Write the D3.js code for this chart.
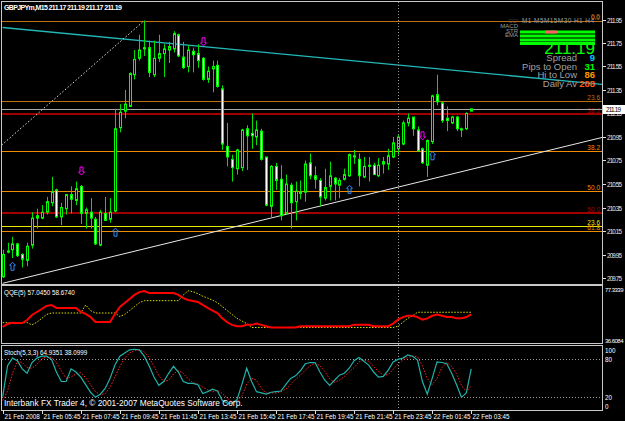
<!DOCTYPE html>
<html>
<head>
<meta charset="utf-8">
<script src="https://cdn.jsdelivr.net/npm/d3@7"></script>
<style>
  body { margin: 0; background: #000; }
  text { font-family: 'Liberation Sans', Arial, sans-serif; }
</style>
</head>
<body>
<svg id="chart" width="625" height="421"></svg>
<script>
// GBPJPYm M15, 21 Feb 2008 03:45 -> 22 Feb 2008 03:45 (97 bars)
const opens = [209.76,209.97,209.99,210.04,209.95,209.90,210.03,210.28,210.26,210.31,
  210.39,210.50,210.27,210.34,210.46,210.41,210.53,210.30,210.31,210.25,
  210.03,210.30,210.25,210.32,211.03,211.17,211.21,211.48,211.62,211.71,
  211.71,211.48,211.62,211.66,211.69,211.70,211.82,211.63,211.55,211.68,
  211.66,211.62,211.44,211.53,211.56,211.36,210.87,210.76,210.68,210.69,
  211.02,210.98,210.95,211.00,210.78,210.36,210.70,210.59,210.30,210.54,
  210.40,210.48,210.48,210.73,210.62,210.58,210.43,210.53,210.60,210.54,
  210.59,210.62,210.79,210.76,210.61,210.71,210.71,210.62,210.74,210.72,
  210.78,210.85,210.89,211.07,211.12,211.01,210.85,210.71,210.91,211.31,
  211.24,211.11,211.07,211.12,211.01,211.02,211.17];
const highs = [209.99,210.05,210.10,210.05,209.96,210.05,210.31,210.34,210.37,210.44,
  210.61,210.51,210.39,210.46,210.53,210.57,210.54,210.35,210.43,210.27,
  210.33,210.44,210.43,211.19,211.23,211.35,211.50,211.69,211.82,211.94,
  211.77,211.77,211.82,211.74,211.76,211.85,211.83,211.76,211.73,211.71,
  211.74,211.63,211.55,211.60,211.60,211.39,211.07,210.80,210.85,211.02,
  211.05,211.15,211.09,211.02,210.78,210.71,210.73,210.71,210.63,210.56,
  210.57,210.58,210.75,210.81,210.70,210.60,210.68,210.74,210.61,210.60,
  210.68,210.81,210.84,210.81,210.78,210.78,210.73,210.77,210.78,210.85,
  210.95,210.97,211.09,211.15,211.12,211.04,210.86,210.93,211.31,211.48,
  211.25,211.21,211.13,211.13,211.03,211.16,211.19];
const lows = [209.75,209.96,209.92,209.93,209.84,209.85,210.00,210.17,210.25,210.29,
  210.36,210.26,210.20,210.29,210.30,210.37,210.21,210.17,210.17,210.03,
  210.02,210.24,210.22,210.31,210.99,211.11,211.21,211.44,211.60,211.64,
  211.46,211.46,211.59,211.46,211.58,211.67,211.63,211.53,211.50,211.50,
  211.54,211.43,211.41,211.33,211.37,210.84,210.70,210.57,210.63,210.66,
  210.67,210.85,210.88,210.75,210.36,210.26,210.50,210.24,210.29,210.17,
  210.24,210.42,210.40,210.59,210.51,210.36,210.41,210.41,210.41,210.43,
  210.58,210.61,210.72,210.53,210.60,210.57,210.63,210.61,210.64,210.67,
  210.77,210.80,210.88,211.04,210.96,210.83,210.72,210.61,210.89,211.22,
  211.07,211.00,211.06,211.00,210.95,211.01,211.17];
const closes = [209.95,209.98,210.04,209.94,209.91,210.02,210.26,210.26,210.31,210.40,
  210.48,210.27,210.35,210.46,210.42,210.51,210.30,210.33,210.26,210.04,
  210.31,210.24,210.31,211.02,211.16,211.23,211.49,211.61,211.69,211.70,
  211.50,211.62,211.66,211.70,211.72,211.83,211.64,211.54,211.69,211.65,
  211.60,211.44,211.51,211.55,211.38,210.89,210.78,210.69,210.84,211.01,
  210.96,210.96,211.01,210.76,210.37,210.70,210.58,210.28,210.55,210.39,
  210.49,210.47,210.72,210.62,210.59,210.44,210.52,210.62,210.55,210.58,
  210.63,210.80,210.78,210.62,210.70,210.70,210.63,210.71,210.72,210.79,
  210.90,210.95,211.07,211.11,211.02,210.83,210.73,210.92,211.30,211.25,
  211.09,211.09,211.12,211.02,211.02,211.15,211.19];

const timeLabels = ['21 Feb 2008','21 Feb 05:45','21 Feb 07:45','21 Feb 09:45','21 Feb 11:45',
  '21 Feb 13:45','21 Feb 15:45','21 Feb 17:45','21 Feb 19:45','21 Feb 21:45',
  '21 Feb 23:45','22 Feb 01:45','22 Feb 03:45'];
const priceTicks = ['211.95','211.75','211.55','211.35','211.15','210.95','210.75',
  '210.55','210.35','210.15','209.95','209.75'];

// horizontal levels drawn on the chart
const levelPrices = [211.94, 211.256, 211.148, 210.832, 210.49, 210.306, 210.19, 210.148];
const levelNames  = ['0.0', '23.6', '38.2', '38.2', '50.0', '50.0', '23.6', '61.8'];
const levelSets   = ['fibTop', 'fibTop', 'fibRed', 'fib', 'fib', 'fibRed', 'fibYel', 'fib'];
const bidPrice = 211.19;

// trendlines [bar, price] pairs
const cyanLine  = [[0, 211.882], [96, 211.503]];
const whiteLine = [[0, 209.705], [96, 210.675]];
const fibDiag   = [[-51, 209.04], [29, 211.94]];
const separatorBar = 81;

// signal arrows
const buyBars = [2, 23, 71, 88];
const buyPrices = [209.85, 210.14, 210.505, 210.79];
const sellBars = [16, 41, 86];
const sellPrices = [210.66, 211.76, 210.96];

// QQE(5)
const qqeRsi = [47.4,49.7,50.7,50.4,50.4,52.7,56.6,58.9,61.2,63.5,
  64.3,62.0,62.0,62.0,62.0,62.0,58.9,57.4,55.0,51.2,
  51.2,51.2,51.2,57.4,62.7,65.8,68.9,72.0,74.2,75.0,
  73.5,73.5,73.5,73.5,73.5,73.5,72.0,69.6,68.1,67.3,
  66.6,64.3,62.0,60.0,58.0,54.0,51.0,49.0,48.0,48.0,
  49.0,49.0,50.0,49.0,48.0,47.0,47.0,47.0,47.0,47.0,
  47.0,48.0,48.0,48.0,48.0,48.0,48.0,48.0,48.0,48.0,
  48.0,48.0,49.0,49.0,49.0,49.0,48.0,48.0,48.0,48.0,
  50.0,53.0,55.0,56.0,56.0,55.0,53.0,54.0,56.0,57.0,
  56.0,55.0,55.0,54.0,54.0,55.0,57.0];
const qqeTrail = [50.7,50.7,50.7,50.7,50.7,50.7,49.0,51.0,54.0,57.0,
  58.1,58.1,58.1,58.1,58.1,58.1,58.1,64.3,60.0,58.1,
  58.1,58.1,58.1,58.1,55.4,57.0,60.0,63.0,66.0,67.6,
  67.6,67.6,67.6,67.6,67.6,67.6,67.6,72.0,75.2,74.5,
  73.0,71.0,69.6,68.0,66.0,63.0,60.0,57.0,54.0,52.0,
  50.0,47.0,47.0,47.0,47.0,47.0,47.0,47.0,47.0,47.0,
  47.0,47.0,47.0,47.0,47.0,47.0,47.0,47.0,47.0,47.0,
  47.0,47.0,47.0,47.0,47.0,47.0,47.0,47.0,47.0,47.0,
  47.0,48.0,51.0,54.0,56.0,58.7,58.7,58.7,58.7,58.7,
  58.7,58.7,58.7,58.7,58.7,58.7,58.7];

// Stoch(5,3,3)
const stochMain = [21,70,82,78,65,58,75,82,85,85,
  80,60,45,45,65,60,52,40,28,20,
  25,34,50,71,85,90,95,96,95,85,
  70,52,39,45,58,69,60,45,42,42,
  40,26,29,33,30,15,11,11,16,40,
  66,45,29,27,25,28,29,30,40,50,
  54,62,73,75,75,60,47,39,47,55,
  58,66,78,83,77,71,60,52,53,63,
  76,80,82,87,85,79,45,25,50,76,
  75,73,58,40,20,27,65];
const stochSignal = [15,30,58,77,75,67,66,72,81,84,
  83,75,62,50,52,57,59,51,40,29,
  24,26,36,52,69,82,90,94,95,92,
  83,69,54,45,47,57,62,58,49,43,
  41,36,32,29,31,26,19,12,13,22,
  41,50,47,34,27,27,27,29,33,40,
  48,55,63,70,74,70,61,49,44,47,
  53,60,67,76,79,77,69,61,55,56,
  64,73,79,83,85,84,70,50,40,50,
  67,75,69,57,39,29,38];
const stochLevels = [80, 20];

const svg = d3.select('#chart');
svg.append('rect').attr('width', 625).attr('height', 421).attr('fill', '#000');

const x = d3.scaleLinear().domain([0, 96]).range([2.7, 471.2]);
const y = d3.scaleLinear().domain([209.75, 211.95]).range([278, 19.5]);
const yQ = d3.scaleLinear().domain([36.6084, 77.3339]).range([341, 288]);
const yS = d3.scaleLinear().domain([0, 100]).range([410, 346.7]);
const px = i => Math.round(x(i)) + 0.5;

const frameColor = '#c8c8c8';
const levelStyle = {
  fibTop: {color: '#c07010', w: 1},
  fib:    {color: '#f08c00', w: 1},
  fibRed: {color: '#a00000', w: 2},
  fibYel: {color: '#e8e800', w: 1}
};

svg.append('clipPath').attr('id', 'mainClip')
  .append('rect').attr('x', 2).attr('y', 2).attr('width', 600).attr('height', 282);

const main = svg.append('g').attr('clip-path', 'url(#mainClip)');

// levels
levelPrices.forEach((p, k) => {
  const st = levelStyle[levelSets[k]];
  const yy = Math.round(y(p)) + (st.w === 2 ? 0 : 0.5);
  main.append('line').attr('x1', 2).attr('x2', 602).attr('y1', yy).attr('y2', yy)
    .attr('stroke', st.color).attr('stroke-width', st.w);
  main.append('text').attr('x', 600).attr('y', yy - 1.5).attr('text-anchor', 'end')
    .attr('font-size', 6.5).attr('fill', st.color).text(levelNames[k]);
});
const yb = Math.round(y(bidPrice)) + 0.5;
main.append('line').attr('x1', 2).attr('x2', 602).attr('y1', yb).attr('y2', yb)
  .attr('stroke', '#a8a8a8').attr('stroke-width', 1);

// day separator
svg.append('line').attr('x1', px(separatorBar)).attr('x2', px(separatorBar))
  .attr('y1', 2).attr('y2', 410).attr('stroke', '#9a9a9a').attr('stroke-dasharray', '1,2');

// trendlines
const tl = (pts, color, dash, w) => {
  main.append('line')
    .attr('x1', x(pts[0][0])).attr('y1', y(pts[0][1]))
    .attr('x2', x(pts[1][0])).attr('y2', y(pts[1][1]))
    .attr('stroke', color).attr('stroke-width', w).attr('stroke-dasharray', dash);
};
const extend = (pts, toBar) => {
  const k = (pts[1][1] - pts[0][1]) / (pts[1][0] - pts[0][0]);
  return [pts[0], [toBar, pts[0][1] + k * (toBar - pts[0][0])]];
};
tl(extend(cyanLine, 125), '#22b8b8', null, 1.3);
tl(extend(whiteLine, 125), '#e8e8e8', null, 1);
tl(fibDiag, '#e0e0e0', '1.5,2', 1);

// candles
const bars = opens.map((o, i) => ({i, o, h: highs[i], l: lows[i], c: closes[i]}));
main.selectAll('line.wick').data(bars).join('line').attr('class', 'wick')
  .attr('x1', d => px(d.i)).attr('x2', d => px(d.i))
  .attr('y1', d => y(d.h)).attr('y2', d => y(d.l))
  .attr('stroke', '#00e000').attr('stroke-width', 1);
main.selectAll('rect.body').data(bars).join('rect').attr('class', 'body')
  .attr('x', d => px(d.i) - 1)
  .attr('y', d => y(Math.max(d.o, d.c)))
  .attr('width', 2)
  .attr('height', d => Math.max(1, y(Math.min(d.o, d.c)) - y(Math.max(d.o, d.c))))
  .attr('fill', d => d.c >= d.o ? '#000' : '#fff')
  .attr('stroke', '#00ff00').attr('stroke-width', 1);

// arrows
const upPts = '0,-4 3,-1 1.5,-1 1.5,4 -1.5,4 -1.5,-1 -3,-1';
const downPts = '0,4 3,1 1.5,1 1.5,-4 -1.5,-4 -1.5,1 -3,1';
buyBars.forEach((b, k) => {
  main.append('polygon').attr('points', upPts)
    .attr('transform', `translate(${px(b)},${y(buyPrices[k])})`)
    .attr('fill', 'none').attr('stroke', '#2f8cff').attr('stroke-width', 1);
});
sellBars.forEach((b, k) => {
  main.append('polygon').attr('points', downPts)
    .attr('transform', `translate(${px(b)},${y(sellPrices[k])})`)
    .attr('fill', 'none').attr('stroke', '#ff00ff').attr('stroke-width', 1);
});

// frames
const frame = (y0, y1) => svg.append('rect').attr('x', 1.5).attr('y', y0 + 0.5)
  .attr('width', 601).attr('height', y1 - y0).attr('fill', 'none')
  .attr('stroke', frameColor).attr('stroke-width', 1);
frame(1, 284);
frame(285, 343);
frame(345, 410);

// price axis
priceTicks.forEach(t => {
  const yy = Math.round(y(+t)) + 0.5;
  svg.append('line').attr('x1', 603).attr('x2', 606).attr('y1', yy).attr('y2', yy).attr('stroke', '#ddd');
  svg.append('text').attr('x', 607).attr('y', yy + 2.5).attr('font-size', 6.3)
    .attr('fill', '#e8e8e8').attr('textLength', 15).text(t);
});
svg.append('rect').attr('x', 603).attr('y', yb - 4.5).attr('width', 22).attr('height', 9).attr('fill', '#fff');
svg.append('text').attr('x', 606).attr('y', yb + 2.5).attr('font-size', 6.3).attr('fill', '#000')
  .attr('textLength', 15).text(bidPrice.toFixed(2));

// title
svg.append('text').attr('x', 4).attr('y', 10).attr('font-size', 7).attr('font-weight', 'bold')
  .attr('fill', '#fff').attr('textLength', 118).text('GBPJPYm,M15  211.17 211.19 211.17 211.19');

// info panel
const info = svg.append('g');
info.append('text').attr('x', 508).attr('y', 23).attr('font-size', 6).attr('fill', '#444').text('CCI');
info.append('text').attr('x', 522).attr('y', 23).attr('font-size', 6.5).attr('fill', '#9a9a9a')
  .attr('textLength', 72).text('M1 M5M15M30 H1 H4');
[['MACD', 28], ['STR', 32.5], ['EMA', 37]].forEach(([t, yy]) => {
  info.append('text').attr('x', 518).attr('y', yy).attr('text-anchor', 'end')
    .attr('font-size', 6).attr('fill', '#9a9a9a').text(t);
});
[30.5, 34.5, 38.5, 42].forEach(yy => {
  info.append('rect').attr('x', 520).attr('y', yy).attr('width', 75).attr('height', 3).attr('fill', '#00ff00');
});
info.append('rect').attr('x', 545).attr('y', 30.5).attr('width', 12).attr('height', 3).attr('fill', '#ff6060');
info.append('text').attr('x', 595).attr('y', 54).attr('text-anchor', 'end').attr('font-size', 17)
  .attr('fill', '#00ff00').text('211.19');
const stats = [['Spread', '9', '#00c8ff', 61], ['Pips to Open', '31', '#00ff00', 69.5],
  ['Hi to Low', '86', '#ff9900', 78], ['Daily Av', '208', '#ff5a1e', 86.5]];
stats.forEach(([t, v, c, yy]) => {
  info.append('text').attr('x', 577).attr('y', yy).attr('text-anchor', 'end')
    .attr('font-size', 9.5).attr('fill', '#a0a0a0').text(t);
  info.append('text').attr('x', 595).attr('y', yy).attr('text-anchor', 'end')
    .attr('font-size', 9.5).attr('font-weight', 'bold').attr('fill', c).text(v);
});
svg.append('text').attr('x', 600).attr('y', 19).attr('text-anchor', 'end').attr('font-size', 6.5)
  .attr('fill', levelStyle.fibTop.color).text('0.0');

// QQE pane
svg.append('path').datum(qqeTrail)
  .attr('d', d3.line().x((d, i) => x(i)).y(d => yQ(d)))
  .attr('fill', 'none').attr('stroke', '#e0e000').attr('stroke-width', 1).attr('stroke-dasharray', '1.5,1.5');
svg.append('path').datum(qqeRsi)
  .attr('d', d3.line().x((d, i) => x(i)).y(d => yQ(d)))
  .attr('fill', 'none').attr('stroke', '#ff0000').attr('stroke-width', 2);
svg.append('text').attr('x', 4).attr('y', 295).attr('font-size', 6.3).attr('fill', '#fff')
  .text('QQE(5) 57.0450 58.6740');
svg.append('text').attr('x', 605).attr('y', 292).attr('font-size', 6).attr('fill', '#fff')
  .attr('textLength', 18.5).text('77.3339');
svg.append('text').attr('x', 605).attr('y', 343).attr('font-size', 6).attr('fill', '#fff')
  .attr('textLength', 18.5).text('36.6084');

// Stoch pane
stochLevels.forEach(l => {
  const yy = Math.round(yS(l)) + 0.5;
  svg.append('line').attr('x1', 2).attr('x2', 602).attr('y1', yy).attr('y2', yy)
    .attr('stroke', '#9a9a9a').attr('stroke-dasharray', '1,2');
});
svg.append('path').datum(stochSignal)
  .attr('d', d3.line().x((d, i) => x(i)).y(d => yS(d)))
  .attr('fill', 'none').attr('stroke', '#ff2020').attr('stroke-width', 1).attr('stroke-dasharray', '1.5,1.5');
svg.append('path').datum(stochMain)
  .attr('d', d3.line().x((d, i) => x(i)).y(d => yS(d)))
  .attr('fill', 'none').attr('stroke', '#20b2aa').attr('stroke-width', 1.2);
svg.append('text').attr('x', 4).attr('y', 355).attr('font-size', 6.3).attr('fill', '#fff')
  .text('Stoch(5,3,3) 64.9351 38.0999');
[['100', 100, 353], ['80', 80, 361.5], ['20', 20, 399.5], ['0', 0, 409]].forEach(([t, v, yy]) => {
  svg.append('text').attr('x', 605).attr('y', yy).attr('font-size', 6.3).attr('fill', '#fff').text(t);
});
svg.append('text').attr('x', 4).attr('y', 406).attr('font-size', 8.3).attr('fill', '#fff')
  .text('Interbank FX Trader 4, \u00a9 2001-2007 MetaQuotes Software Corp.');

// time axis
timeLabels.forEach((t, k) => {
  const xx = px(k * 8);
  svg.append('line').attr('x1', xx).attr('x2', xx).attr('y1', 410).attr('y2', 414).attr('stroke', '#ddd');
  svg.append('text').attr('x', xx + 1).attr('y', 419).attr('font-size', 6.3).attr('fill', '#fff').text(t);
});
</script>
</body>
</html>
